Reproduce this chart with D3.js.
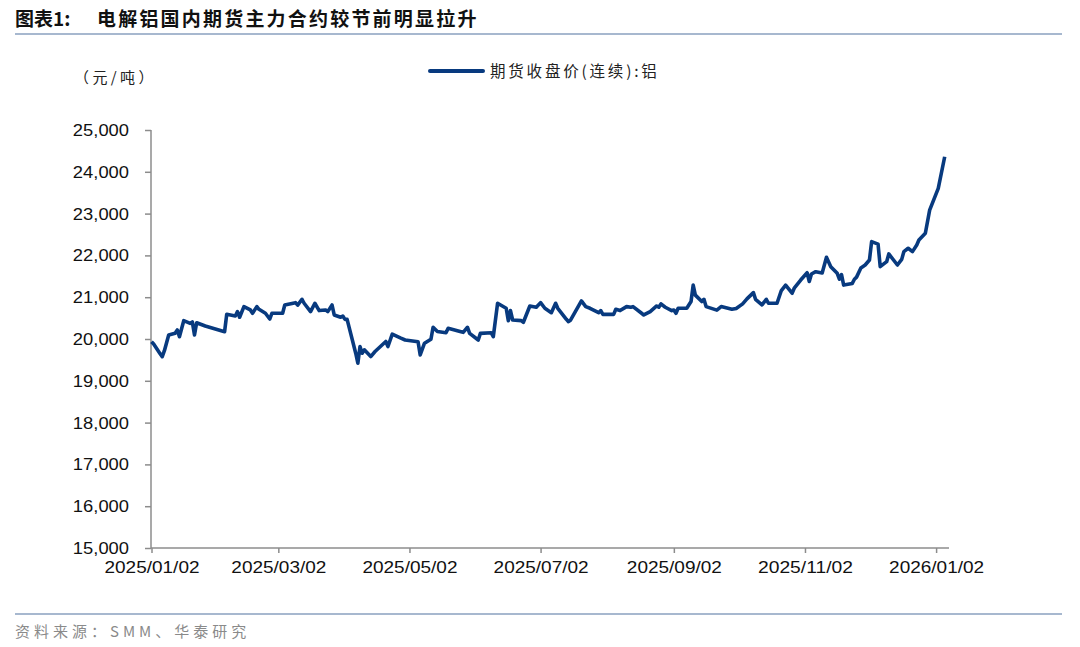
<!DOCTYPE html>
<html><head><meta charset="utf-8">
<script src="https://cdn.jsdelivr.net/npm/d3@7"></script>
<style>
body{margin:0;background:#fff;}
svg{display:block;}
</style></head><body>
<svg id="c" width="1080" height="647"></svg>
<script>
const dates = ["2025-01-02","2025-01-03","2025-01-06","2025-01-07","2025-01-08","2025-01-10","2025-01-13","2025-01-14","2025-01-15","2025-01-17","2025-01-20","2025-01-21","2025-01-22","2025-01-23","2025-01-27",
"2025-02-05","2025-02-06","2025-02-10","2025-02-11","2025-02-12","2025-02-14","2025-02-17","2025-02-18","2025-02-20","2025-02-21","2025-02-24","2025-02-26","2025-02-27",
"2025-03-04","2025-03-05","2025-03-10","2025-03-11","2025-03-13","2025-03-14","2025-03-17","2025-03-19","2025-03-21","2025-03-24","2025-03-25","2025-03-27","2025-03-28","2025-03-31",
"2025-04-01","2025-04-02","2025-04-03","2025-04-07","2025-04-08","2025-04-09","2025-04-10","2025-04-11","2025-04-14","2025-04-16","2025-04-21","2025-04-22","2025-04-24","2025-04-28","2025-04-30",
"2025-05-06","2025-05-07","2025-05-09","2025-05-12","2025-05-13","2025-05-15","2025-05-19","2025-05-20","2025-05-26","2025-05-27","2025-05-29","2025-05-30",
"2025-06-03","2025-06-04","2025-06-09","2025-06-10","2025-06-12","2025-06-16","2025-06-17","2025-06-18","2025-06-19","2025-06-23","2025-06-24","2025-06-27","2025-06-30",
"2025-07-02","2025-07-04","2025-07-07","2025-07-09","2025-07-10","2025-07-14","2025-07-15","2025-07-16","2025-07-21","2025-07-23","2025-07-25","2025-07-29","2025-07-30","2025-07-31",
"2025-08-05","2025-08-06","2025-08-08","2025-08-11","2025-08-13","2025-08-14","2025-08-18","2025-08-19","2025-08-22","2025-08-25","2025-08-26","2025-08-27","2025-08-29",
"2025-09-01","2025-09-02","2025-09-03","2025-09-04","2025-09-08","2025-09-10","2025-09-11","2025-09-12","2025-09-15","2025-09-16","2025-09-17","2025-09-22","2025-09-24","2025-09-29",
"2025-10-01","2025-10-04","2025-10-06","2025-10-09","2025-10-10","2025-10-13","2025-10-15","2025-10-16","2025-10-20","2025-10-22","2025-10-24","2025-10-27","2025-10-28","2025-10-31",
"2025-11-03","2025-11-04","2025-11-05","2025-11-07","2025-11-10","2025-11-12","2025-11-14","2025-11-17","2025-11-18","2025-11-19","2025-11-20","2025-11-24","2025-11-25","2025-11-26","2025-11-28","2025-11-30",
"2025-12-02","2025-12-03","2025-12-06","2025-12-07","2025-12-10","2025-12-11","2025-12-15","2025-12-17","2025-12-18","2025-12-20","2025-12-22","2025-12-24","2025-12-25","2025-12-28","2025-12-30",
"2026-01-03","2026-01-06"];
const prices = [19935,19880,19650,19577,19720,20095,20136,20215,20055,20438,20375,20407,20096,20390,20311,
20175,20590,20550,20655,20520,20775,20695,20615,20775,20710,20615,20478,20615,
20615,20813,20870,20810,20950,20855,20655,20855,20680,20695,20655,20813,20575,20520,
20550,20470,20470,19660,19420,19820,19660,19740,19580,19700,19940,19820,20115,20020,19976,
19935,19620,19900,19995,20280,20180,20150,20255,20175,20160,20280,20135,
19975,20135,20150,20055,20855,20735,20440,20680,20455,20440,20400,20790,20760,
20870,20735,20630,20855,20735,20470,20415,20455,20910,20775,20735,20630,20680,20590,
20590,20710,20680,20775,20760,20775,20615,20575,20655,20790,20760,20840,20760,
20680,20695,20615,20735,20735,20895,21290,21050,20895,20950,20775,20690,20775,20710,
20730,20840,20960,21110,20950,20815,20950,20855,20855,21160,21290,21095,21215,21410,
21585,21375,21555,21610,21580,21955,21730,21570,21430,21540,21290,21330,21430,21480,21700,21770,
21890,22330,22270,21730,21850,22035,21770,21905,22090,22170,22090,22250,22370,22530,23085,
23605,24360];
const yTicks = [15000,16000,17000,18000,19000,20000,21000,22000,23000,24000,25000];
const xTickLabels = ["2025/01/02","2025/03/02","2025/05/02","2025/07/02","2025/09/02","2025/11/02","2026/01/02"];
const titleLabel = "图表1:";
const titleText = "电解铝国内期货主力合约较节前明显拉升";
const unitLabel = "（元/吨）";
const seriesName = "期货收盘价(连续):铝";
const sourceText = "资料来源：SMM、华泰研究";

const svg = d3.select("#c");
const parse = d3.timeParse("%Y-%m-%d");
const parseTick = d3.timeParse("%Y/%m/%d");
const data = dates.map((d,i)=>({date:parse(d), v:prices[i]}));

const x = d3.scaleTime().domain([parse("2025-01-02"), parse("2026-01-08")]).range([151.5, 949]);
const y = d3.scaleLinear().domain([15000,25000]).range([548,130]);
const axisColor = "#8c8c8c";
const lineColor = "#083a7f";
const numFont = "'Liberation Sans', Arial, sans-serif";
const cjkFont = "'Noto Sans CJK SC', sans-serif";

// header
svg.append("text").attr("x",15).attr("y",26).attr("font-family",cjkFont).attr("font-weight",700)
  .attr("font-size",19).attr("fill","#111").text(titleLabel);
svg.append("text").attr("x",97).attr("y",26).attr("font-family",cjkFont).attr("font-weight",700)
  .attr("font-size",19).attr("letter-spacing",2.2).attr("fill","#111").text(titleText);
svg.append("line").attr("x1",15).attr("x2",1062).attr("y1",34).attr("y2",34)
  .attr("stroke","#a7b8cf").attr("stroke-width",2);

// footer
svg.append("line").attr("x1",15).attr("x2",1062).attr("y1",614).attr("y2",614)
  .attr("stroke","#a7b8cf").attr("stroke-width",2);
svg.append("text").attr("x",15).attr("y",637).attr("font-family",cjkFont)
  .attr("font-size",15).attr("letter-spacing",4).attr("fill","#8a8a8a").text(sourceText);

// unit
svg.append("text").attr("x",74).attr("y",83).attr("font-family",cjkFont)
  .attr("font-size",15).attr("letter-spacing",3.4).attr("fill","#222").text(unitLabel);

// legend
svg.append("line").attr("x1",430).attr("x2",483).attr("y1",71).attr("y2",71)
  .attr("stroke",lineColor).attr("stroke-width",4).attr("stroke-linecap","round");
svg.append("text").attr("x",490).attr("y",77).attr("font-family",cjkFont)
  .attr("font-size",15.5).attr("letter-spacing",2.8).attr("fill","#222").text(seriesName);

// y axis
const yAxis = svg.append("g").attr("transform","translate(151,0)")
  .call(d3.axisLeft(y).tickValues(yTicks).tickFormat(d3.format(",")).tickSize(6).tickPadding(16));
yAxis.select(".domain").attr("stroke",axisColor).attr("stroke-width",1.5).attr("d","M0,130V548");
yAxis.selectAll(".tick line").attr("stroke",axisColor).attr("stroke-width",1.5);
yAxis.selectAll(".tick text").attr("font-family",numFont).attr("font-size",17).attr("fill","#111")
  .attr("transform","scale(1.08,1)").attr("x",-22/1.08);

// x axis
const xTicks = xTickLabels.map(parseTick);
const xAxis = svg.append("g").attr("transform","translate(0,548)")
  .call(d3.axisBottom(x).tickValues(xTicks).tickFormat(d3.timeFormat("%Y/%m/%d")).tickSize(5).tickPadding(8));
xAxis.select(".domain").attr("stroke",axisColor).attr("stroke-width",1.5).attr("d","M151,0H949");
xAxis.selectAll(".tick line").attr("stroke",axisColor).attr("stroke-width",1.5);
xAxis.selectAll(".tick text").attr("font-family",numFont).attr("font-size",17).attr("fill","#111")
  .attr("textLength",95).attr("lengthAdjust","spacingAndGlyphs");

// line
svg.append("path").datum(data)
  .attr("fill","none").attr("stroke",lineColor).attr("stroke-width",3.6).attr("stroke-linejoin","round")
  .attr("d", d3.line().x(d=>x(d.date)).y(d=>y(d.v)));
</script>
</body></html>
